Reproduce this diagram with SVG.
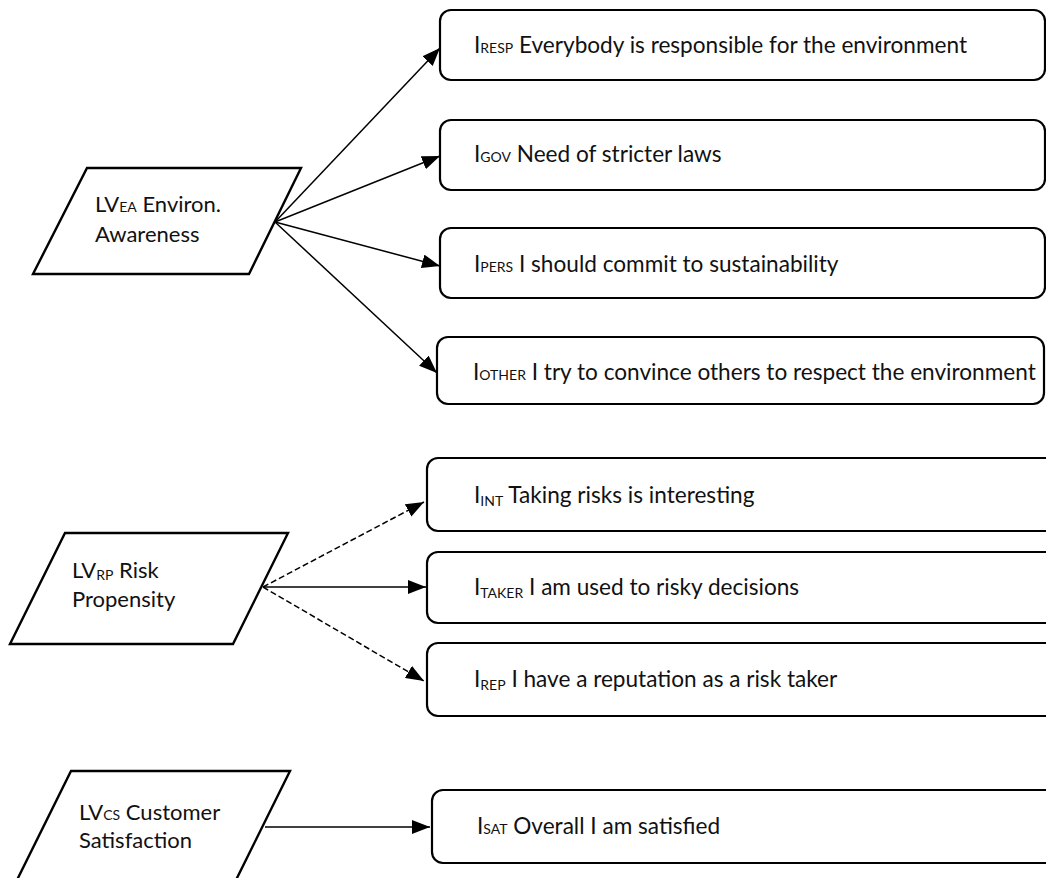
<svg xmlns="http://www.w3.org/2000/svg" width="1046" height="878" viewBox="0 0 1046 878">
  <style>
    .box { fill: #fff; stroke: #000; stroke-width: 2.2; }
    .lv { fill: #fff; stroke: #000; stroke-width: 2.4; stroke-linejoin: miter; }
    .t { font-family: "Lato", "Liberation Sans", sans-serif; font-size: 22.6px; fill: #111; }
    .l { font-family: "Lato", "Liberation Sans", sans-serif; font-size: 22px; fill: #111; }
    .sub { font-size: 14px; }
    .edge { stroke: #000; stroke-width: 1.5; fill: none; marker-end: url(#arrow); }
    .dash { stroke-dasharray: 6 3; }
  </style>
  <defs>
    <marker id="arrow" viewBox="0 0 18 14" refX="18" refY="7" markerWidth="18" markerHeight="14" markerUnits="userSpaceOnUse" orient="auto">
      <path d="M0,0 L18,7 L0,14 Z" fill="#000"/>
    </marker>
  </defs>
  <rect width="1046" height="878" fill="#fff"/>

  <!-- connectors -->
  <g id="connectors">
    <line class="edge" x1="275" y1="222" x2="440" y2="48"/>
    <line class="edge" x1="275" y1="222" x2="440" y2="156"/>
    <line class="edge" x1="275" y1="222" x2="440" y2="266"/>
    <line class="edge" x1="275" y1="222" x2="437" y2="373"/>
    <line class="edge dash" x1="263" y1="587" x2="424" y2="502"/>
    <line class="edge" x1="263" y1="587" x2="426" y2="587"/>
    <line class="edge dash" x1="263" y1="587" x2="424" y2="681"/>
    <line class="edge" x1="265" y1="827" x2="430" y2="827"/>
  </g>

  <!-- latent variables -->
  <g id="lv-ea">
    <polygon class="lv" points="87,168 301,168 249,274 33,274"/>
    <text class="l" x="95" y="212">LV<tspan class="sub">EA</tspan> Environ.</text>
    <text class="l" x="95" y="242">Awareness</text>
  </g>
  <g id="lv-rp">
    <polygon class="lv" points="65,533 288,533 233,644 10,644"/>
    <text class="l" x="72" y="578">LV<tspan class="sub" dy="2">RP</tspan><tspan dy="-2"> Risk</tspan></text>
    <text class="l" x="72" y="607">Propensity</text>
  </g>
  <g id="lv-cs">
    <polygon class="lv" points="71,771 290,771 236,880 17,880"/>
    <text class="l" x="79" y="820">LV<tspan class="sub">CS</tspan> Customer</text>
    <text class="l" x="79" y="848">Satisfaction</text>
  </g>

  <!-- indicators -->
  <g id="i-resp">
    <rect class="box" x="440" y="10" width="605" height="70" rx="11"/>
    <text class="t" x="474" y="53">I<tspan class="sub">RESP</tspan> Everybody is responsible for the environment</text>
  </g>
  <g id="i-gov">
    <rect class="box" x="440" y="120" width="605" height="70" rx="11"/>
    <text class="t" x="474" y="162">I<tspan class="sub">GOV</tspan> Need of stricter laws</text>
  </g>
  <g id="i-pers">
    <rect class="box" x="440" y="228" width="605" height="70" rx="11"/>
    <text class="t" x="474" y="272">I<tspan class="sub">PERS</tspan> I should commit to sustainability</text>
  </g>
  <g id="i-other">
    <rect class="box" x="437" y="337" width="607" height="67" rx="11"/>
    <text class="t" x="473" y="380">I<tspan class="sub">OTHER</tspan> I try to convince others to respect the environment</text>
  </g>
  <g id="i-int">
    <rect class="box" x="427" y="458" width="640" height="73" rx="11"/>
    <text class="t" x="474" y="503">I<tspan class="sub" dy="3">INT</tspan><tspan dy="-3"> Taking risks is interesting</tspan></text>
  </g>
  <g id="i-taker">
    <rect class="box" x="427" y="552" width="640" height="71" rx="11"/>
    <text class="t" x="474" y="595">I<tspan class="sub" dy="3">TAKER</tspan><tspan dy="-3"> I am used to risky decisions</tspan></text>
  </g>
  <g id="i-rep">
    <rect class="box" x="427" y="643" width="640" height="73" rx="11"/>
    <text class="t" x="474" y="687">I<tspan class="sub" dy="3">REP</tspan><tspan dy="-3"> I have a reputation as a risk taker</tspan></text>
  </g>
  <g id="i-sat">
    <rect class="box" x="432" y="790" width="640" height="73" rx="11"/>
    <text class="t" x="477" y="834">I<tspan class="sub">SAT</tspan> Overall I am satisfied</text>
  </g>
</svg>
